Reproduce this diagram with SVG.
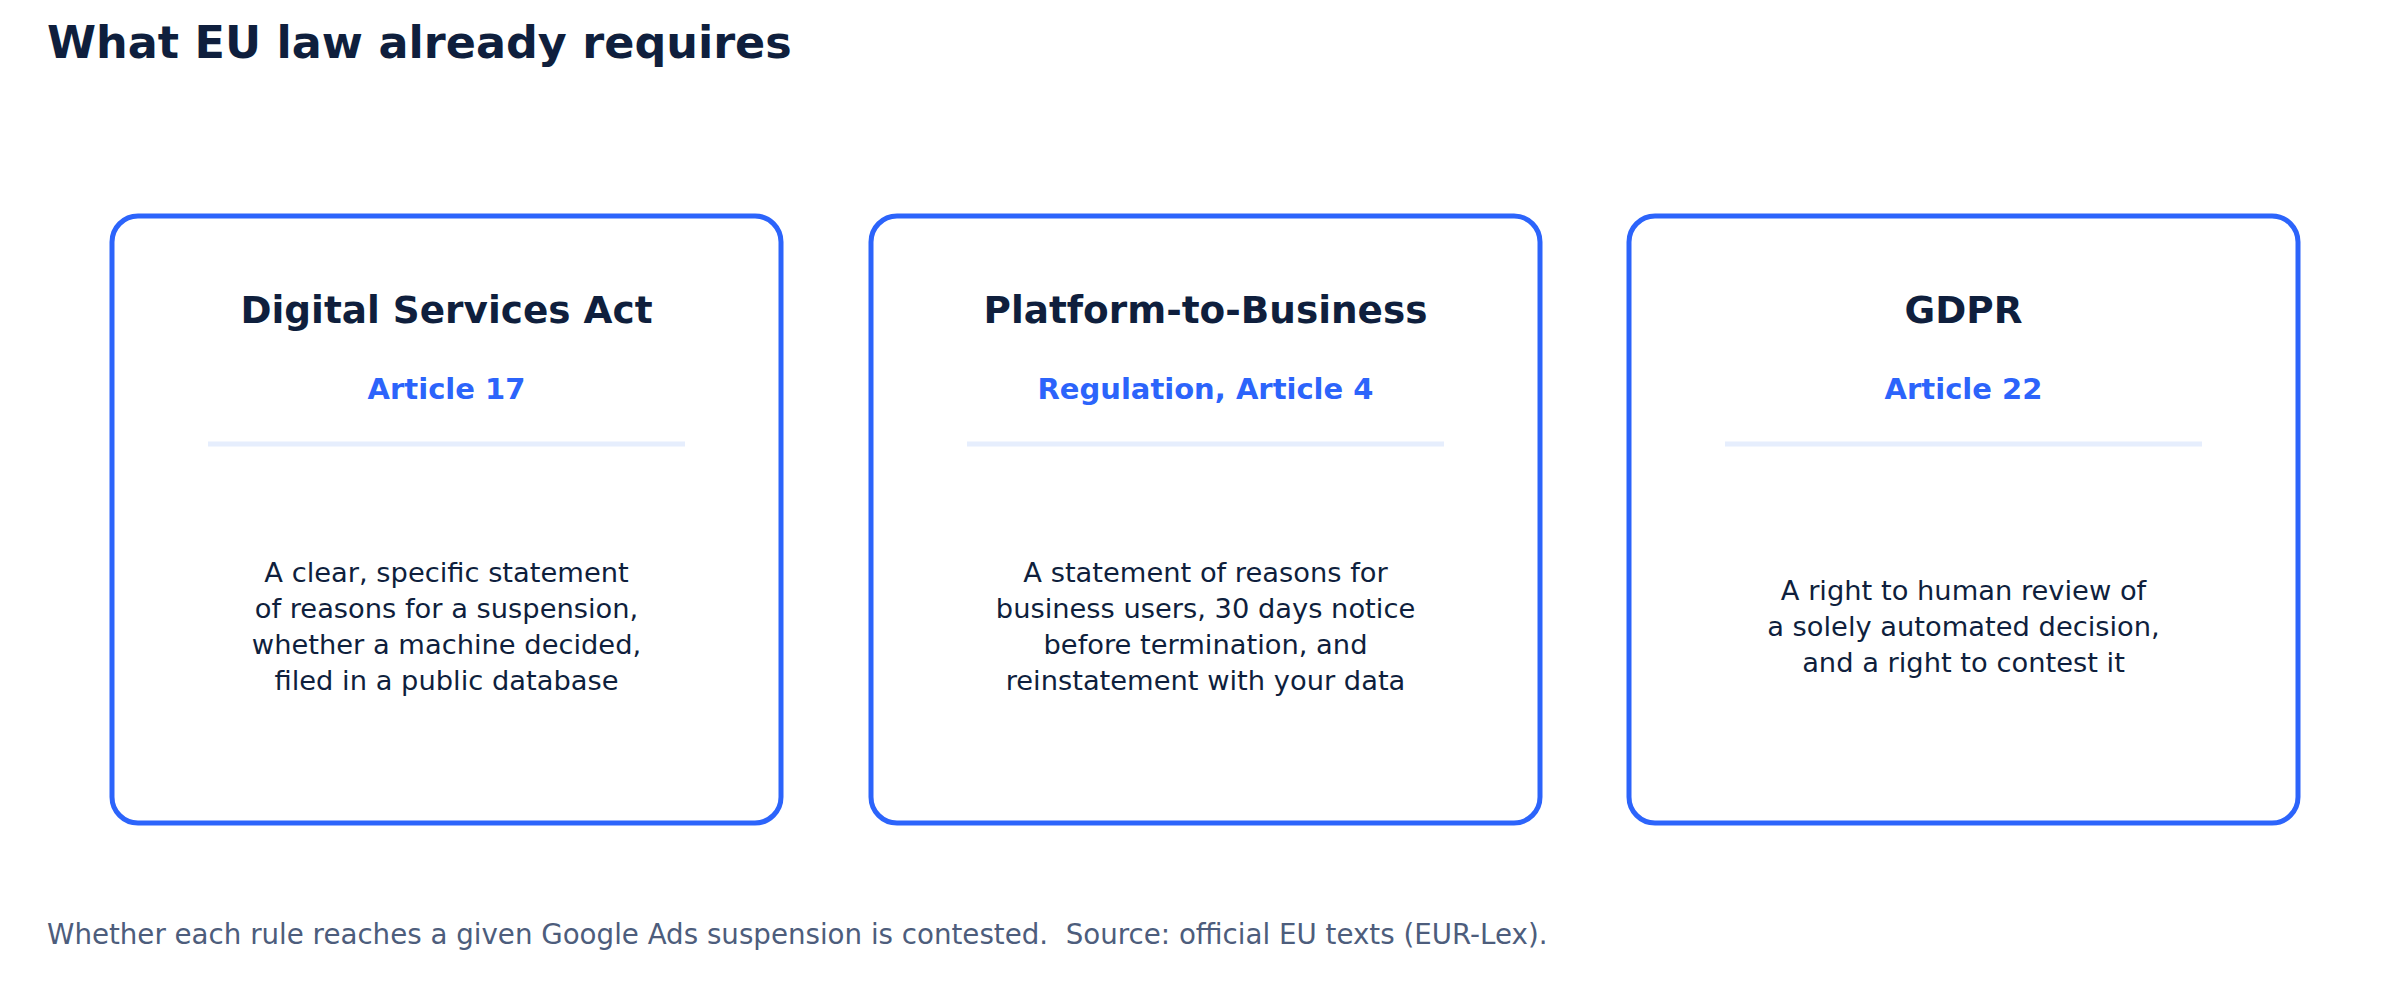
<svg xmlns="http://www.w3.org/2000/svg" width="2400" height="990" viewBox="0 0 2400 990">
<style>
.bg{fill:#ffffff}
.card{fill:#ffffff;stroke:#2c64fb;stroke-width:5}
.title{font-family:"DejaVu Sans",sans-serif;font-weight:bold;font-size:44.5px;fill:#0f1f3d}
.head{font-family:"DejaVu Sans",sans-serif;font-weight:bold;font-size:37.4px;fill:#0f1f3d;text-anchor:middle}
.art{font-family:"DejaVu Sans",sans-serif;font-weight:bold;font-size:29px;fill:#2c64fb;text-anchor:middle}
.rule{stroke:#e6eefd;stroke-width:5}
.body{font-family:"DejaVu Sans",sans-serif;font-size:27.3px;fill:#0f1f3d;text-anchor:middle}
.foot{font-family:"DejaVu Sans",sans-serif;font-size:27.7px;fill:#4d5d7c;white-space:pre}
</style>
<rect class="bg" x="0" y="0" width="2400" height="990"/>
<text class="title" x="47" y="58">What EU law already requires</text>
<g id="connectors"></g>
<g id="card-dsa">
<rect class="card" x="112" y="216" width="669" height="607" rx="26"/>
<text class="head" x="446.5" y="323">Digital Services Act</text>
<text class="art" x="446.5" y="399">Article 17</text>
<line class="rule" x1="208" y1="444" x2="685" y2="444"/>
<text class="body" x="446.5" y="582">A clear, specific statement</text>
<text class="body" x="446.5" y="618">of reasons for a suspension,</text>
<text class="body" x="446.5" y="654">whether a machine decided,</text>
<text class="body" x="446.5" y="690">filed in a public database</text>
</g>
<g id="card-p2b">
<rect class="card" x="871" y="216" width="669" height="607" rx="26"/>
<text class="head" x="1205.5" y="323">Platform-to-Business</text>
<text class="art" x="1205.5" y="399">Regulation, Article 4</text>
<line class="rule" x1="967" y1="444" x2="1444" y2="444"/>
<text class="body" x="1205.5" y="582">A statement of reasons for</text>
<text class="body" x="1205.5" y="618">business users, 30 days notice</text>
<text class="body" x="1205.5" y="654">before termination, and</text>
<text class="body" x="1205.5" y="690">reinstatement with your data</text>
</g>
<g id="card-gdpr">
<rect class="card" x="1629" y="216" width="669" height="607" rx="26"/>
<text class="head" x="1963.5" y="323">GDPR</text>
<text class="art" x="1963.5" y="399">Article 22</text>
<line class="rule" x1="1725" y1="444" x2="2202" y2="444"/>
<text class="body" x="1963.5" y="600">A right to human review of</text>
<text class="body" x="1963.5" y="636">a solely automated decision,</text>
<text class="body" x="1963.5" y="672">and a right to contest it</text>
</g>
<text class="foot" x="47" y="944">Whether each rule reaches a given Google Ads suspension is contested.  Source: official EU texts (EUR-Lex).</text>
</svg>
